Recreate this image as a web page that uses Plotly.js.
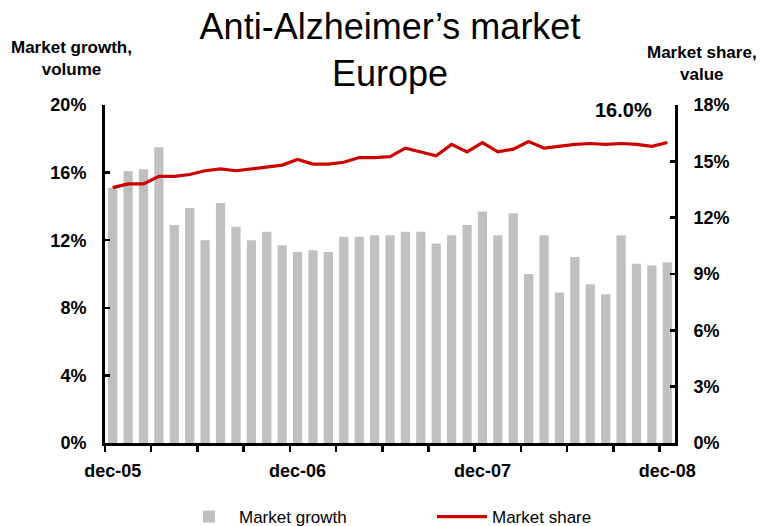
<!DOCTYPE html>
<html>
<head>
<meta charset="utf-8">
<script src="https://cdn.plot.ly/plotly-3.0.1.min.js"></script>
<style>html,body{margin:0;padding:0;background:#fff;}#chart{width:763px;height:526px;}</style>
</head>
<body>
<div id="chart"></div>
<script>
const months = ['dec-05','jan-06','feb-06','mar-06','apr-06','may-06','jun-06','jul-06','aug-06','sep-06','oct-06','nov-06',
  'dec-06','jan-07','feb-07','mar-07','apr-07','may-07','jun-07','jul-07','aug-07','sep-07','oct-07','nov-07',
  'dec-07','jan-08','feb-08','mar-08','apr-08','may-08','jun-08','jul-08','aug-08','sep-08','oct-08','nov-08','dec-08'];
const marketGrowth = [15.1,16.1,16.2,17.5,12.9,13.9,12.0,14.2,12.8,12.0,12.5,11.7,
  11.3,11.4,11.3,12.2,12.2,12.3,12.3,12.5,12.5,11.8,12.3,12.9,
  13.7,12.3,13.6,10.0,12.3,8.9,11.0,9.4,8.8,12.3,10.6,10.5,10.7];
const marketShare = [13.6,13.8,13.8,14.2,14.2,14.3,14.5,14.6,14.5,14.6,14.7,14.8,
  15.1,14.85,14.85,14.95,15.2,15.2,15.25,15.7,15.5,15.3,15.9,15.5,
  16.0,15.5,15.65,16.05,15.7,15.8,15.9,15.95,15.9,15.95,15.9,15.8,16.0];
const tickLabels = ['dec-05','dec-06','dec-07','dec-08'];

const xIdx = months.map((m, i) => i);
const tickIdx = tickLabels.map(t => months.indexOf(t));
const FONT = 'Liberation Sans, Arial, sans-serif';

const traces = [
  {type:'bar', name:'Market growth', x:xIdx, y:marketGrowth, marker:{color:'#C0C0C0'}, yaxis:'y', hoverinfo:'skip'},
  {type:'scatter', mode:'lines', name:'Market share', x:xIdx, y:marketShare, yaxis:'y2',
   line:{color:'#CC0000', width:3.2}, hoverinfo:'skip'}
];

const last = marketShare.length - 1;
const layout = {
  width:763, height:526,
  margin:{l:105, r:88, t:105, b:83, pad:0, autoexpand:false},
  paper_bgcolor:'#fff', plot_bgcolor:'#fff',
  font:{family:FONT, color:'#000'},
  bargap:0.4,
  showlegend:true,
  title:{text:'Anti-Alzheimer’s market<br>Europe', font:{family:FONT, size:36, color:'#000'},
         x:0.5, xref:'paper', y:1-39/526, yref:'container', yanchor:'middle', xanchor:'center'},
  xaxis:{range:[-0.5, months.length-0.5], showgrid:false, zeroline:false,
         showline:true, linecolor:'#000', linewidth:3,
         tickmode:'array', tickvals:tickIdx, ticktext:tickLabels,
         ticks:'outside', ticklen:9, tickcolor:'rgba(0,0,0,0)',
         tickfont:{family:FONT, size:18, color:'#000', weight:'bold'},
         minor:{tickmode:'linear', tick0:-0.5, dtick:3, ticks:'outside', ticklen:6, tickwidth:2.5, tickcolor:'#000', showgrid:false}},
  yaxis:{range:[0,20], dtick:4, tick0:0, ticksuffix:'%', showgrid:false, zeroline:false,
         showline:true, linecolor:'#000', linewidth:3,
         ticks:'inside', ticklen:5, tickwidth:2.5, tickcolor:'#000', ticklabelstandoff:12,
         tickfont:{family:FONT, size:18, color:'#000', weight:'bold'}},
  yaxis2:{range:[0,18], dtick:3, tick0:0, ticksuffix:'%', overlaying:'y', side:'right',
         showgrid:false, zeroline:false,
         showline:true, linecolor:'#000', linewidth:3,
         ticks:'inside', ticklen:5, tickwidth:2.5, tickcolor:'#000', ticklabelstandoff:12,
         tickfont:{family:FONT, size:18, color:'#000', weight:'bold'}},
  legend:{orientation:'h', x:(179-105)/570, xanchor:'left', y:(443-517)/338, yanchor:'middle',
          entrywidth:188, entrywidthmode:'pixels', itemwidth:50,
          font:{family:FONT, size:17, color:'#000'}, bgcolor:'rgba(0,0,0,0)', traceorder:'normal'},
  annotations:[
    {text:'Market growth,<br>volume', xref:'paper', yref:'paper', x:(71-105)/570, y:1+(105-59)/338,
     xanchor:'center', yanchor:'middle', showarrow:false, font:{family:FONT, size:17, weight:'bold', color:'#000'}},
    {text:'Market share,<br>value', xref:'paper', yref:'paper', x:(702-105)/570, y:1+(105-64)/338,
     xanchor:'center', yanchor:'middle', showarrow:false, font:{family:FONT, size:17, weight:'bold', color:'#000'}},
    {text:marketShare[last].toFixed(1)+'%', xref:'x', yref:'y2', x:last, y:marketShare[last],
     xshift:-44, yshift:33, xanchor:'center', yanchor:'middle', showarrow:false,
     font:{family:FONT, size:20, weight:'bold', color:'#000'}}
  ]
};
Plotly.newPlot('chart', traces, layout, {displayModeBar:false, staticPlot:true});
</script>
</body>
</html>
